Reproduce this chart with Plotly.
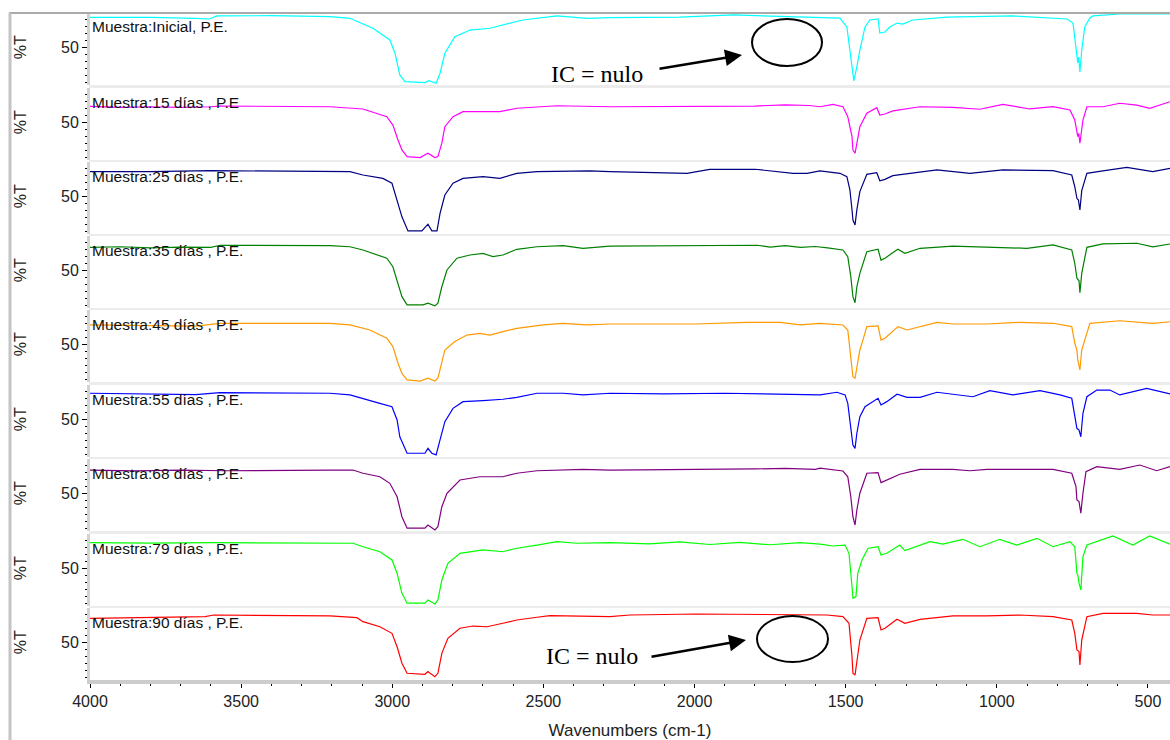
import plotly.graph_objects as go

# ---------------- data (wavenumber cm-1, %T) ----------------
WN_TICKS = [4000, 3500, 3000, 2500, 2000, 1500, 1000, 500]

LABELS = [
    "Muestra:Inicial, P.E.",
    "Muestra:15 días , P.E",
    "Muestra:25 días , P.E.",
    "Muestra:35 días , P.E.",
    "Muestra:45 días , P.E.",
    "Muestra:55 días , P.E.",
    "Muestra:68 días , P.E.",
    "Muestra:79 días , P.E.",
    "Muestra:90 días , P.E.",
]

COLORS = ["#00ffff", "#ff00ff", "#000080", "#008000", "#ff9900",
          "#0000ff", "#800080", "#00ff00", "#ff0000"]

INICIAL = [(4000, 71.3), (3800, 71.3), (3650, 70.6), (3605, 70.2), (3580, 72.4), (3400, 72.6),
           (3206, 71.9), (3140, 70.7), (3064, 63.6), (3008, 55.2), (2991, 45.7), (2975, 30.2),
           (2958, 25.4), (2892, 24.7), (2879, 26.1), (2855, 24.2), (2842, 31.4), (2826, 45.7),
           (2793, 57.6), (2743, 62.3), (2677, 63.6), (2611, 67.1), (2568, 69.5), (2455, 72.4),
           (2356, 70.6), (2280, 71.2), (2048, 71.6), (1873, 73.1), (1700, 72.0), (1519, 70.9),
           (1496, 64.5), (1486, 48.0), (1479, 35.9), (1473, 25.9), (1463, 35.9), (1453, 48.0),
           (1436, 64.5), (1420, 69.5), (1393, 70.2), (1387, 60.2), (1370, 60.9), (1354, 64.5),
           (1330, 67.3), (1311, 66.6), (1278, 69.5), (1165, 71.6), (947, 72.4), (768, 70.2),
           (748, 67.3), (742, 55.2), (735, 43.0), (732, 38.8), (729, 43.0), (725, 32.3),
           (719, 48.0), (709, 64.5), (692, 70.9), (682, 72.4), (593, 73.8), (427, 73.8)]

DIAS_15 = [(4000, 61.3), (3900, 60.6), (3800, 61.1), (3700, 60.6), (3600, 61.1), (3570, 61.6),
           (3206, 61.1), (3097, 59.5), (3018, 54.0), (2998, 48.0), (2981, 37.3), (2968, 30.2),
           (2951, 25.4), (2908, 24.7), (2882, 27.8), (2859, 24.7), (2849, 25.4), (2836, 35.0),
           (2826, 46.8), (2799, 54.0), (2766, 57.6), (2644, 57.6), (2588, 60.0), (2455, 61.8),
           (2280, 61.1), (2000, 61.3), (1800, 61.6), (1700, 62.5), (1620, 62.0), (1585, 61.1),
           (1542, 62.8), (1509, 61.1), (1493, 54.0), (1479, 39.7), (1476, 30.2), (1469, 27.8),
           (1463, 35.0), (1453, 46.8), (1430, 56.4), (1397, 60.4), (1387, 55.2), (1370, 55.9),
           (1344, 58.1), (1321, 58.8), (1254, 61.1), (1145, 60.7), (1056, 59.3), (980, 62.8),
           (891, 59.5), (814, 61.1), (758, 58.8), (742, 51.6), (735, 42.1), (732, 39.7),
           (729, 42.0), (725, 35.0), (715, 51.6), (702, 61.1), (649, 61.1), (593, 63.6),
           (537, 62.3), (494, 59.9), (427, 64.7)]

DIAS_25 = [(4000, 67.6), (3800, 67.6), (3600, 68.3), (3206, 68.1), (3140, 67.6), (3097, 65.2),
           (3031, 62.8), (3001, 59.3), (2984, 47.3), (2968, 35.3), (2948, 25.2), (2902, 25.2),
           (2882, 30.0), (2869, 25.2), (2852, 25.2), (2842, 37.8), (2826, 50.9), (2799, 59.3),
           (2766, 62.8), (2700, 64.0), (2644, 62.8), (2588, 66.4), (2521, 67.6), (2346, 68.1),
           (2280, 67.6), (2025, 66.4), (1950, 69.2), (1800, 69.3), (1674, 66.4), (1628, 66.4),
           (1585, 68.1), (1519, 66.4), (1496, 64.0), (1486, 54.5), (1479, 40.2), (1476, 33.0),
           (1469, 29.5), (1463, 40.2), (1453, 53.3), (1430, 65.7), (1397, 66.8), (1387, 61.1),
           (1370, 62.1), (1344, 64.7), (1287, 66.4), (1198, 68.8), (1089, 66.4), (980, 68.8),
           (814, 68.3), (752, 65.2), (742, 56.8), (735, 48.5), (730, 47.3), (725, 40.2),
           (719, 54.0), (702, 66.4), (649, 68.1), (570, 70.7), (484, 67.6), (427, 70.0)]

DIAS_35 = [(4000, 66.4), (3900, 66.8), (3800, 66.0), (3700, 66.6), (3600, 66.4), (3570, 67.9),
           (3206, 67.6), (3140, 66.8), (3097, 64.5), (3018, 58.6), (2998, 52.5), (2981, 40.7),
           (2968, 31.1), (2951, 25.2), (2898, 25.2), (2882, 26.4), (2859, 24.5), (2849, 26.4),
           (2836, 38.2), (2819, 50.2), (2786, 58.6), (2743, 60.9), (2700, 62.1), (2667, 59.7),
           (2634, 60.9), (2588, 65.0), (2521, 66.8), (2435, 67.6), (2369, 65.7), (2280, 67.3),
           (2000, 67.6), (1794, 67.9), (1750, 66.6), (1700, 67.6), (1650, 66.4), (1600, 67.0),
           (1560, 66.0), (1509, 64.5), (1493, 59.7), (1483, 45.4), (1476, 31.1), (1469, 26.8),
           (1463, 38.2), (1453, 47.8), (1430, 63.3), (1393, 65.0), (1383, 57.3), (1370, 58.6),
           (1347, 62.1), (1327, 65.0), (1304, 62.1), (1254, 65.7), (1145, 67.3), (1033, 66.4),
           (900, 65.7), (814, 68.1), (752, 64.5), (742, 55.0), (735, 44.3), (728, 42.5),
           (725, 34.0), (719, 47.8), (702, 66.4), (649, 68.8), (537, 69.3), (484, 66.8),
           (427, 68.8)]

DIAS_45 = [(4000, 63.8), (3800, 63.5), (3650, 63.0), (3570, 65.0), (3206, 65.0), (3140, 63.8),
           (3074, 60.2), (3018, 54.3), (2998, 48.3), (2981, 36.4), (2968, 29.2), (2951, 24.5),
           (2908, 23.7), (2882, 25.7), (2859, 23.7), (2849, 25.7), (2836, 36.4), (2826, 45.9),
           (2793, 52.0), (2753, 56.6), (2710, 57.8), (2677, 56.6), (2634, 59.0), (2588, 61.4),
           (2501, 63.8), (2435, 65.0), (2356, 63.8), (2280, 64.5), (2000, 64.5), (1827, 65.7),
           (1717, 65.7), (1650, 63.8), (1585, 65.0), (1509, 63.8), (1493, 60.2), (1479, 34.0),
           (1476, 26.8), (1469, 25.7), (1463, 34.0), (1453, 45.9), (1443, 53.0), (1430, 62.6),
           (1393, 63.1), (1383, 53.0), (1370, 54.3), (1347, 59.0), (1327, 62.6), (1297, 60.2),
           (1254, 62.6), (1198, 65.7), (1145, 64.5), (1033, 64.5), (924, 65.7), (814, 65.0),
           (752, 62.6), (742, 50.7), (735, 45.9), (732, 38.8), (725, 31.6), (719, 45.9),
           (709, 53.0), (692, 65.0), (593, 66.8), (537, 66.1), (484, 65.0), (427, 66.1)]

DIAS_55 = [(4000, 68.6), (3800, 67.9), (3650, 67.6), (3570, 69.0), (3206, 68.6), (3140, 67.4),
           (3097, 65.0), (3041, 61.4), (3001, 59.0), (2984, 49.5), (2975, 37.5), (2951, 25.7),
           (2892, 25.7), (2882, 29.2), (2869, 25.7), (2855, 24.5), (2842, 35.2), (2826, 48.3),
           (2799, 57.8), (2766, 62.6), (2700, 63.3), (2634, 64.3), (2588, 65.7), (2521, 68.6),
           (2435, 68.6), (2369, 67.4), (2280, 68.6), (2100, 68.1), (1900, 68.6), (1700, 68.1),
           (1585, 67.4), (1529, 69.3), (1502, 67.4), (1493, 61.4), (1483, 44.7), (1476, 31.6),
           (1469, 29.2), (1463, 40.0), (1453, 51.8), (1436, 59.0), (1393, 65.0), (1383, 60.2),
           (1364, 62.6), (1330, 67.9), (1297, 65.7), (1254, 65.7), (1198, 69.3), (1132, 67.4),
           (1079, 66.1), (1023, 70.4), (947, 67.4), (857, 70.4), (791, 67.4), (752, 65.0),
           (738, 49.5), (735, 43.5), (728, 42.3), (722, 37.5), (715, 54.3), (702, 66.1),
           (669, 70.9), (626, 70.9), (593, 67.4), (504, 72.1), (427, 68.1)]

DIAS_68 = [(4000, 66.6), (3850, 66.0), (3700, 66.6), (3550, 66.1), (3206, 66.6), (3130, 66.6),
           (3097, 64.3), (3041, 61.8), (3008, 57.1), (2984, 47.5), (2968, 33.2), (2951, 25.0),
           (2892, 25.0), (2882, 27.3), (2859, 23.7), (2849, 26.1), (2836, 40.4), (2819, 50.0),
           (2776, 59.5), (2710, 61.8), (2634, 61.8), (2588, 64.3), (2521, 66.1), (2369, 67.1),
           (2280, 66.6), (2000, 66.8), (1800, 67.4), (1700, 67.8), (1600, 67.1), (1585, 67.9),
           (1509, 65.9), (1493, 61.8), (1483, 47.5), (1476, 33.2), (1469, 27.3), (1463, 38.0),
           (1453, 50.0), (1430, 64.3), (1393, 64.7), (1383, 57.6), (1364, 59.5), (1321, 63.6),
           (1254, 67.1), (1145, 67.1), (1089, 66.1), (1033, 67.1), (814, 67.1), (752, 64.3),
           (738, 54.7), (735, 45.2), (728, 44.0), (722, 35.7), (715, 50.0), (705, 65.4),
           (669, 69.0), (593, 67.1), (527, 70.2), (471, 66.1), (427, 69.0)]

DIAS_79 = [(4000, 68.3), (3800, 68.0), (3600, 68.3), (3206, 68.3), (3130, 67.9), (3097, 65.4),
           (3041, 61.8), (3001, 55.9), (2984, 46.4), (2968, 32.1), (2951, 25.0), (2892, 25.0),
           (2882, 27.3), (2859, 24.5), (2849, 27.3), (2836, 41.6), (2816, 53.5), (2776, 60.7),
           (2733, 61.8), (2700, 63.1), (2634, 61.8), (2588, 64.3), (2521, 66.6), (2455, 69.0),
           (2389, 67.9), (2280, 68.3), (2150, 67.5), (2050, 68.8), (1950, 67.0), (1850, 68.5),
           (1750, 66.8), (1650, 68.3), (1585, 67.3), (1542, 65.9), (1502, 66.6), (1489, 60.7),
           (1479, 36.8), (1476, 28.5), (1466, 29.7), (1460, 46.4), (1446, 55.9), (1426, 64.3),
           (1393, 65.4), (1383, 59.5), (1364, 60.7), (1321, 66.6), (1304, 62.6), (1254, 66.6),
           (1221, 69.0), (1178, 67.3), (1112, 70.7), (1056, 65.4), (990, 70.7), (934, 66.6),
           (867, 71.4), (814, 65.4), (758, 69.0), (742, 65.4), (735, 46.4), (732, 45.2),
           (728, 39.3), (722, 34.5), (715, 58.3), (702, 66.6), (616, 73.1), (550, 66.6),
           (494, 73.1), (427, 67.3)]

DIAS_90 = [(4000, 67.1), (3800, 67.6), (3620, 68.3), (3590, 69.5), (3305, 68.8), (3206, 68.8),
           (3117, 67.6), (3097, 64.7), (3041, 61.1), (3001, 56.4), (2984, 46.8), (2968, 35.0),
           (2951, 27.8), (2892, 27.1), (2882, 29.0), (2859, 25.4), (2849, 27.8), (2836, 42.1),
           (2816, 52.8), (2776, 60.0), (2733, 61.6), (2687, 61.1), (2634, 63.6), (2588, 65.9),
           (2521, 67.9), (2478, 69.0), (2280, 68.3), (2214, 69.5), (1992, 70.2), (1827, 69.8),
           (1562, 69.5), (1509, 68.3), (1489, 63.6), (1479, 39.7), (1476, 27.8), (1469, 26.6),
           (1463, 37.3), (1453, 51.6), (1430, 67.1), (1393, 67.6), (1383, 58.8), (1370, 60.0),
           (1330, 66.4), (1304, 63.6), (1254, 66.4), (1145, 68.8), (1033, 68.8), (924, 69.5),
           (814, 68.3), (752, 65.9), (742, 56.4), (735, 44.5), (728, 43.3), (725, 33.7),
           (719, 51.6), (702, 68.3), (649, 70.7), (537, 70.7), (484, 69.5), (427, 69.5)]

SERIES = [INICIAL, DIAS_15, DIAS_25, DIAS_35, DIAS_45, DIAS_55, DIAS_68, DIAS_79, DIAS_90]

# ---------------- layout geometry (pixels) ----------------
W, H = 1170, 740
X0 = 90                      # left edge of plotting area
TOPS = [13, 88, 162, 236, 310, 385, 459, 534, 608]
PH = 72                      # panel height
YR = [23, 74.5]
N = len(SERIES)
SANS = "Liberation Sans, Arial, sans-serif"


def px(x):
    return x / W


def py(y):
    return 1 - y / H


def ykey(i):
    k = N - i
    return ("y" if k == 1 else f"y{k}"), ("yaxis" if k == 1 else f"yaxis{k}")


fig = go.Figure()
layout_axes = {}
annotations = []
shapes = []

for i, (pts, col, lab) in enumerate(zip(SERIES, COLORS, LABELS)):
    yref, ylay = ykey(i)
    xs = [p[0] for p in pts]
    ys = [p[1] for p in pts]
    fig.add_trace(go.Scatter(x=xs, y=ys, mode="lines", xaxis="x", yaxis=yref,
                             line=dict(color=col, width=1.2), showlegend=False,
                             hoverinfo="skip"))
    top = TOPS[i]
    layout_axes[ylay] = dict(
        domain=[py(top + PH), py(top)], anchor="x", range=YR, automargin=False,
        tickmode="array", tickvals=[50], ticktext=["50"],
        ticks="outside", ticklen=5, tickwidth=1, tickcolor="black",
        showline=True, linecolor="#d2d2d2", linewidth=3,
        showgrid=False, zeroline=False,
        tickfont=dict(family=SANS, size=16, color="#222"),
        minor=dict(tickmode="linear", tick0=0, dtick=5, ticklen=2, ticks="outside",
                   tickcolor="black", showgrid=False),
    )
    # %T labels
    annotations.append(dict(text="%T", x=px(20), xref="paper", y=50, yref=yref,
                            xanchor="center", yanchor="middle", textangle=-90,
                            showarrow=False,
                            font=dict(family=SANS, size=16, color="#222")))
    # panel labels
    annotations.append(dict(text=lab, x=px(90), xref="paper", y=py(top + 14), yref="paper",
                            xanchor="left", yanchor="middle", showarrow=False,
                            font=dict(family=SANS, size=15.5, color="#111")))
    # separator bands
    if i < N - 1:
        shapes.append(dict(type="rect", xref="paper", yref="paper",
                           x0=px(X0 - 1), x1=1, y0=py(TOPS[i + 1]), y1=py(top + PH),
                           fillcolor="#ececec", line=dict(width=0), layer="below"))

layout_axes["xaxis"] = dict(
    domain=[px(X0), 1], anchor="y", range=[4000, 427], automargin=False,
    tickmode="array", tickvals=WN_TICKS, ticktext=[str(v) for v in WN_TICKS],
    ticks="outside", ticklen=4, tickwidth=1, tickcolor="black",
    showline=True, linecolor="#cccccc", linewidth=4,
    showgrid=False, zeroline=False,
    tickfont=dict(family=SANS, size=16, color="#222"),
    minor=dict(tickmode="linear", tick0=0, dtick=100, ticklen=2, ticks="outside",
               tickcolor="black", showgrid=False),
    title=dict(text="Wavenumbers (cm-1)", standoff=16,
               font=dict(family=SANS, size=17, color="#222")),
)

# frame lines
shapes.append(dict(type="line", xref="paper", yref="paper", x0=px(9), x1=1,
                   y0=py(13), y1=py(13), line=dict(color="#aaaaaa", width=2)))
shapes.append(dict(type="line", xref="paper", yref="paper", x0=px(10), x1=px(10),
                   y0=py(13), y1=0, line=dict(color="#c4c4c4", width=3)))

# IC = nulo annotations, ellipses and arrows
NOTE_FONT = dict(family="Liberation Serif, Times New Roman, serif", size=24, color="black")
for (tx, ty), (ex0, ex1, ey0, ey1), (tipx, tipy, tailx, taily) in [
    ((597, 74), (752, 822, 19, 66), (742, 55, 658, 69)),
    ((592, 656), (757, 828, 616, 662), (746, 640, 650, 657)),
]:
    annotations.append(dict(text="IC = nulo", x=px(tx), y=py(ty), xref="paper", yref="paper",
                            xanchor="center", yanchor="middle", showarrow=False,
                            font=NOTE_FONT))
    shapes.append(dict(type="circle", xref="paper", yref="paper",
                       x0=px(ex0), x1=px(ex1), y0=py(ey1), y1=py(ey0),
                       line=dict(color="black", width=2)))
    annotations.append(dict(text="", x=px(tipx), y=py(tipy), xref="paper", yref="paper",
                            ax=tailx - tipx, ay=taily - tipy, showarrow=True,
                            arrowhead=2, arrowsize=1.3, arrowwidth=2.6,
                            arrowcolor="black"))

fig.update_layout(
    width=W, height=H, margin=dict(l=0, r=0, t=0, b=0, autoexpand=False),
    paper_bgcolor="white", plot_bgcolor="white",
    annotations=annotations, shapes=shapes, showlegend=False,
    **layout_axes,
)

fig.write_html("out.html")
